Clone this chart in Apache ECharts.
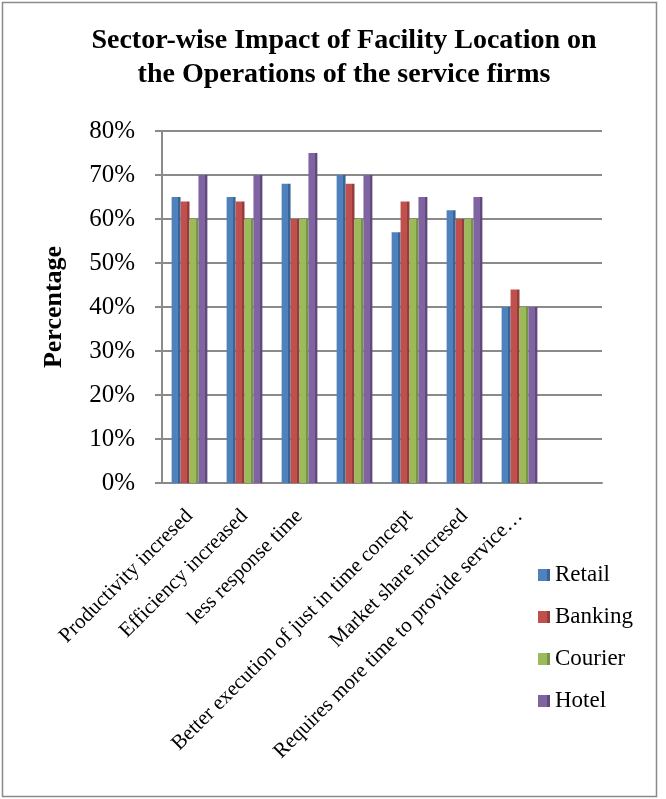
<!DOCTYPE html>
<html>
<head>
<meta charset="utf-8">
<script src="https://cdn.jsdelivr.net/npm/echarts@6/dist/echarts.min.js"></script>
<style>
html,body{margin:0;padding:0;background:#fff;}
#chart{width:666px;height:799px;}
</style>
</head>
<body>
<div id="chart"></div>
<script>
var categories = [
  "Productivity incresed",
  "Efficiency increased",
  "less response time",
  "",
  "Better execution of just in time concept",
  "Market share incresed",
  "Requires more time to provide service\u2026",
  ""
];
var retail  = [65, 65, 68, 70, 57, 62, 40, null];
var banking = [64, 64, 60, 68, 64, 60, 44, null];
var courier = [60, 60, 60, 60, 60, 60, 40, null];
var hotel   = [70, 70, 75, 70, 65, 65, 40, null];
var seriesNames = ["Retail", "Banking", "Courier", "Hotel"];
var colors = ["#4F81BD", "#C0504D", "#9BBB59", "#8064A2"];
var darkColors = ["#3B6496", "#963C3A", "#779446", "#5F4A7B"];

var FONT = "'Liberation Serif', 'Times New Roman', serif";
var chart = echarts.init(document.getElementById('chart'));
var dataSets = [retail, banking, courier, hotel];
var series = dataSets.map(function (d, i) {
  return {
    name: seriesNames[i],
    type: 'bar',
    data: d,
    barGap: '0%',
    barCategoryGap: '35%',
    itemStyle: {
      color: new echarts.graphic.LinearGradient(0, 0, 1, 0, [
        { offset: 0, color: colors[i] },
        { offset: 0.72, color: colors[i] },
        { offset: 0.74, color: darkColors[i] },
        { offset: 1, color: darkColors[i] }
      ])
    }
  };
});

chart.setOption({
  animation: false,
  color: colors,
  graphic: [{
    type: 'rect',
    shape: { x: 2.5, y: 2.5, width: 654, height: 794 },
    style: { fill: 'none', stroke: '#8a8a8a', lineWidth: 1.5 },
    silent: true
  }],
  title: {
    text: 'Sector-wise Impact of Facility Location on\nthe Operations of the service firms',
    left: 344,
    textAlign: 'center',
    top: 24,
    padding: 0,
    textStyle: { fontFamily: FONT, fontSize: 28, fontWeight: 'bold', color: '#000', lineHeight: 34 }
  },
  legend: {
    orient: 'vertical',
    left: 538,
    top: 563,
    padding: 0,
    itemWidth: 12,
    itemHeight: 12,
    itemGap: 18,
    itemTextGap: 5,
    icon: 'rect',
    data: seriesNames,
    textStyle: { fontFamily: FONT, fontSize: 23, color: '#000', lineHeight: 24 }
  },
  grid: { left: 162, top: 131, width: 440, height: 352, containLabel: false },
  xAxis: {
    type: 'category',
    data: categories,
    axisLine: { lineStyle: { color: '#8a8a8a', width: 2 } },
    axisTick: { show: false },
    axisLabel: {
      interval: 0,
      rotate: 45,
      margin: 30,
      fontFamily: FONT,
      fontSize: 21,
      color: '#000'
    }
  },
  yAxis: {
    type: 'value',
    min: 0,
    max: 80,
    interval: 10,
    name: 'Percentage',
    nameLocation: 'middle',
    nameGap: 95,
    nameTextStyle: { fontFamily: FONT, fontSize: 26, fontWeight: 'bold', color: '#000' },
    axisLine: { show: true, lineStyle: { color: '#8a8a8a', width: 2 } },
    axisTick: { show: true, length: 7, lineStyle: { color: '#8a8a8a', width: 2 } },
    axisLabel: { formatter: '{value}%', fontFamily: FONT, fontSize: 25, color: '#000', margin: 27 },
    splitLine: { lineStyle: { color: '#8a8a8a', width: 2 } }
  },
  series: series
});
</script>
</body>
</html>
